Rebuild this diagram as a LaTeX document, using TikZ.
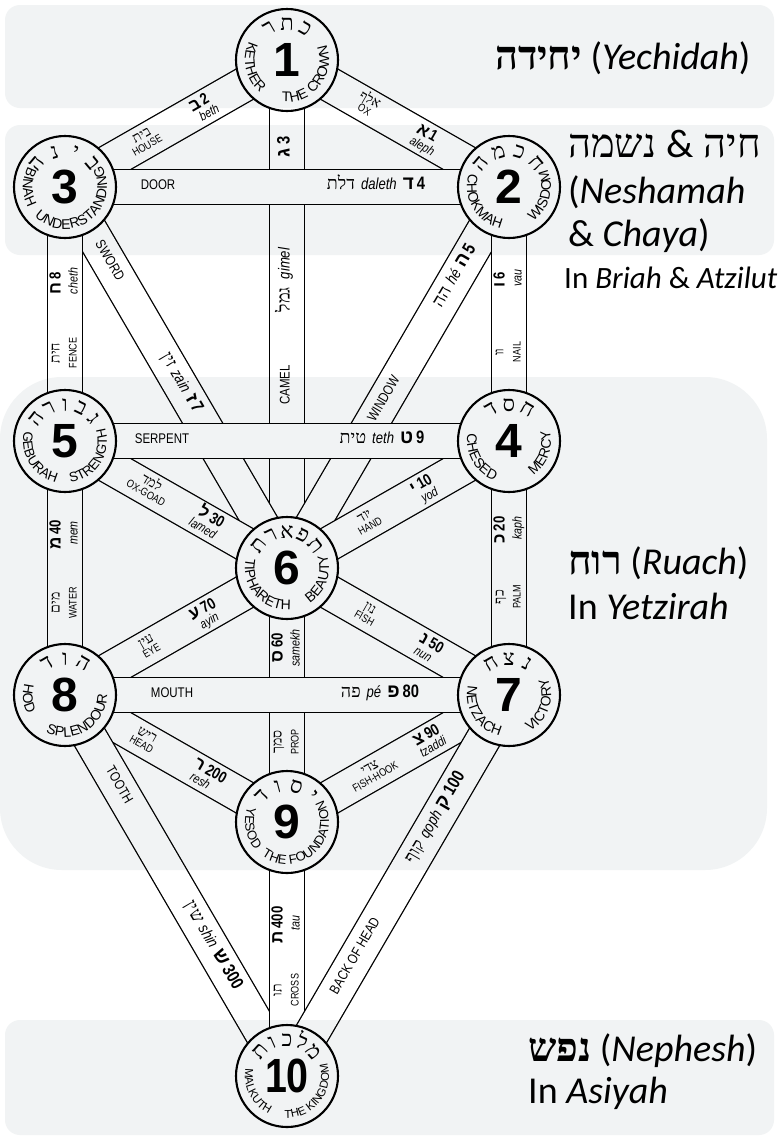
\documentclass[tikz,border=0pt]{standalone}
\usepackage{fontspec}
\usetikzlibrary{decorations.text,calc}
\setmainfont{Liberation Sans}
\newfontfamily\condf[FakeStretch=0.82]{Liberation Sans}
\newfontfamily\ringf{Liberation Sans}
\newfontfamily\hebf[Script=Hebrew]{Liberation Serif}
\newfontfamily\hebbf[Script=Hebrew]{Liberation Sans}
\newfontfamily\hebtf[Script=Hebrew]{Liberation Serif}
\newfontfamily\calif{Carlito}
\TeXXeTstate=1
\definecolor{tint}{RGB}{241,243,244}
\pgfdeclarelayer{bands}
\pgfdeclarelayer{tintlayer}
\pgfsetlayers{bands,main,tintlayer}

% label pieces on the long paths
\newcommand\HebN[1]{{\hebf\fontsize{18}{18}\selectfont\beginR #1\endR}}
\newcommand\TrL[1]{{\condf\itshape\fontsize{16}{16}\selectfont #1}}
\newcommand\LetB[1]{{\hebbf\bfseries\fontsize{19}{19}\selectfont #1}}
\newcommand\NumB[1]{{\condf\bfseries\fontsize{18}{18}\selectfont #1}}
\newcommand\EngL[1]{{\condf\fontsize{14}{14}\selectfont #1}}
% label pieces on the short paths
\newcommand\sHebN[1]{{\hebf\fontsize{14}{14}\selectfont\beginR #1\endR}}
\newcommand\sTrL[1]{{\condf\itshape\fontsize{13}{13}\selectfont #1}}
\newcommand\sLetB[1]{{\hebbf\bfseries\fontsize{17}{17}\selectfont #1}}
\newcommand\sNumB[1]{{\condf\bfseries\fontsize{16}{16}\selectfont #1}}
\newcommand\sEngL[1]{{\condf\fontsize{11}{11}\selectfont #1}}

% a path: black edges with a white body
\newcommand\band[2]{\draw[bandedge] (#1.center) -- (#2.center);\draw[bandfill] (#1.center) -- (#2.center);}
% local frame along a path: x runs from the first sephira, y is "up" for the text
\newcommand\along[3]{\begin{scope}[shift={(#1.center)},rotate=#2,transform shape]#3\end{scope}}
% English name on the lower inside of a ring
\newcommand\ringtext[4]{\path[decorate,decoration={text along path,text align=center,text={|\ringf\fontsize{#3}{#3}\selectfont|#4}}] ($(#1.center)+({#2-110}:42)$) arc[start angle={#2-110},end angle={#2+110},radius=42];}
% Hebrew name on the upper inside of a ring (letters listed left to right)
\newcommand\hebring[5]{\foreach \ch [count=\i] in {#5}{\pgfmathsetmacro\ang{#2-(\i-1)*(#2-#3)/(#4-1)}\node[ringheb,rotate=\ang-90] (#1h\i) at ($(#1.center)+(\ang:30)$) {\ch};}}

\begin{document}
\begin{tikzpicture}[x=1pt,y=1pt,
  sephira/.style={circle,draw,line width=2.1pt,fill=white,minimum size=102pt,inner sep=0pt},
  numb/.style={inner sep=0pt,font=\fontsize{48}{48}\selectfont\bfseries},
  bandedge/.style={line width=36pt,black},
  bandfill/.style={line width=33.4pt,white},
  lab/.style={inner sep=0pt,anchor=mid},
  ringheb/.style={inner sep=0pt,anchor=base,font=\hebf\fontsize{22}{22}\selectfont},
  sidetitle/.style={inner sep=0pt,anchor=base west,font=\calif\fontsize{38}{38}\selectfont},
  sidesub/.style={inner sep=0pt,anchor=base west,font=\calif\fontsize{31}{31}\selectfont}]
\useasboundingbox (0,-1141) rectangle (782,0);

% the ten sephiroth
\node[sephira] (s1) at (287,-60) {};
\node[sephira] (s2) at (509,-187) {};
\node[sephira] (s3) at (65,-187) {};
\node[sephira] (s4) at (509,-441) {};
\node[sephira] (s5) at (65,-441) {};
\node[sephira] (s6) at (287,-568) {};
\node[sephira] (s7) at (509,-695) {};
\node[sephira] (s8) at (65,-695) {};
\node[sephira] (s9) at (287,-822) {};
\node[sephira] (s10) at (287,-1076) {};

% the twenty-two paths (later ones lie on top)
\begin{pgfonlayer}{bands}
\fill[white] (0,-1141) rectangle (782,0);
\band{s1}{s6}\band{s2}{s6}\band{s3}{s6}\band{s6}{s9}
\band{s1}{s2}\band{s1}{s3}\band{s2}{s4}\band{s3}{s5}
\band{s4}{s6}\band{s5}{s6}\band{s4}{s7}\band{s5}{s8}
\band{s6}{s7}\band{s6}{s8}\band{s7}{s9}\band{s8}{s9}
\band{s8}{s10}\band{s9}{s10}\band{s7}{s10}
\band{s3}{s2}\band{s5}{s4}\band{s8}{s7}
\end{pgfonlayer}

% numbers
\node[numb] (n1) at (s1.center) {1};
\node[numb] (n2) at (s2.center) {2};
\node[numb] (n3) at (s3.center) {3};
\node[numb] (n4) at (s4.center) {4};
\node[numb] (n5) at (s5.center) {5};
\node[numb] (n6) at (s6.center) {6};
\node[numb] (n7) at (s7.center) {7};
\node[numb] (n8) at (s8.center) {8};
\node[numb] (n9) at (s9.center) {9};
\node[numb,font=\condf\fontsize{48}{48}\selectfont\bfseries] (n10) at (s10.center) {10};

% Hebrew names
\hebring{s1}{120}{60}{3}{ר,ת,כ}
\hebring{s2}{140}{40}{4}{ה,מ,כ,ח}
\hebring{s3}{140}{40}{4}{ה,נ,י,ב}
\hebring{s4}{120}{60}{3}{ד,ס,ח}
\hebring{s5}{142}{38}{5}{ה,ר,ו,ב,ג}
\hebring{s6}{142}{38}{5}{ת,ר,א,פ,ת}
\hebring{s7}{120}{60}{3}{ח,צ,נ}
\hebring{s8}{120}{60}{3}{ד,ו,ה}
\hebring{s9}{135}{45}{4}{ד,ו,ס,י}
\hebring{s10}{138}{42}{5}{ת,ו,כ,ל,מ}

% English names
\ringtext{s1}{192}{14}{KETHER}
\ringtext{s1}{322}{14}{THE CROWN}
\ringtext{s2}{210}{14}{CHOKMAH}
\ringtext{s2}{345}{14}{WISDOM}
\ringtext{s3}{180}{14}{BINAH}
\ringtext{s3}{307}{14}{UNDERSTANDING}
\ringtext{s4}{210}{14}{CHESED}
\ringtext{s4}{340}{14}{MERCY}
\ringtext{s5}{212}{13.5}{GEBURAH}
\ringtext{s5}{328}{13.5}{STRENGTH}
\ringtext{s6}{221}{14}{TIPHARETH}
\ringtext{s6}{341}{14}{BEAUTY}
\ringtext{s7}{212}{14}{NETZACH}
\ringtext{s7}{342}{14}{VICTORY}
\ringtext{s8}{185}{14}{HOD}
\ringtext{s8}{302}{14}{SPLENDOUR}
\ringtext{s9}{190}{13}{YESOD}
\ringtext{s9}{312}{13}{THE FOUNDATION}
\ringtext{s10}{207}{11.5}{MALKUTH}
\ringtext{s10}{322}{11.5}{THE KINGDOM}

% path labels
\along{s1}{-29.78}{
  \node[lab] (aH) at (92,5) {\sHebN{אלף}};
  \node[lab] (aE) at (92,-6) {\sEngL{OX}};
  \node[lab] (aL) at (158,4) {\sLetB{א}\hspace{2pt}\sNumB{1}};
  \node[lab] (aT) at (160,-9) {\sTrL{aleph}};}
\along{s3}{29.78}{
  \node[lab] (bH) at (92,5) {\sHebN{בית}};
  \node[lab] (bE) at (92,-6) {\sEngL{HOUSE}};
  \node[lab] (bL) at (158,4) {\sLetB{ב}\hspace{2pt}\sNumB{2}};
  \node[lab] (bT) at (162,-9) {\sTrL{beth}};}
\along{s6}{90}{
  \node[lab] (gE) at (183,0) {\EngL{CAMEL}};
  \node[lab] (gN) at (288,0) {\HebN{גמל}\hspace{8pt}\TrL{gimel}};
  \node[lab] (gL) at (421,0) {\LetB{ג}\hspace{4pt}\NumB{3}};}
\along{s3}{0}{
  \node[lab] (dE) at (93,0) {\EngL{DOOR}};
  \node[lab] (dN) at (311,0) {\HebN{דלת}\hspace{6pt}\TrL{daleth}\hspace{6pt}\LetB{ד}\hspace{3pt}\NumB{4}};}
\along{s6}{59.78}{
  \node[lab] (hE) at (195,0) {\EngL{WINDOW}};
  \node[lab] (hN) at (337,0) {\HebN{הה}\hspace{5pt}\TrL{hé}\hspace{5pt}\LetB{ה}\hspace{3pt}\NumB{5}};}
\along{s4}{90}{
  \node[lab] (vH) at (89,8) {\sHebN{וו}};
  \node[lab] (vE) at (89,-9) {\sEngL{NAIL}};
  \node[lab] (vL) at (161,7) {\sLetB{ו}\hspace{3pt}\sNumB{6}};
  \node[lab] (vT) at (163,-10) {\sTrL{vau}};}
\along{s3}{-59.78}{
  \node[lab] (zE) at (86,0) {\EngL{SWORD}};
  \node[lab] (zN) at (228,0) {\HebN{זין}\hspace{5pt}\TrL{zain}\hspace{5pt}\LetB{ז}\hspace{3pt}\NumB{7}};}
\along{s5}{90}{
  \node[lab] (cH) at (88,8) {\sHebN{חית}};
  \node[lab] (cE) at (88,-9) {\sEngL{FENCE}};
  \node[lab] (cL) at (158,7) {\sLetB{ח}\hspace{3pt}\sNumB{8}};
  \node[lab] (cT) at (160,-10) {\sTrL{cheth}};}
\along{s5}{0}{
  \node[lab] (tE) at (97,0) {\EngL{SERPENT}};
  \node[lab] (tN) at (317,0) {\HebN{טית}\hspace{6pt}\TrL{teth}\hspace{6pt}\LetB{ט}\hspace{3pt}\NumB{9}};}
\along{s6}{29.78}{
  \node[lab] (yH) at (93,5) {\sHebN{יוד}};
  \node[lab] (yE) at (93,-6) {\sEngL{HAND}};
  \node[lab] (yL) at (158,4) {\sLetB{י}\hspace{3pt}\sNumB{10}};
  \node[lab] (yT) at (160,-9) {\sTrL{yod}};}
\along{s7}{90}{
  \node[lab] (kH) at (98,8) {\sHebN{כף}};
  \node[lab] (kE) at (98,-9) {\sEngL{PALM}};
  \node[lab] (kL) at (165,7) {\sLetB{כ}\hspace{3pt}\sNumB{20}};
  \node[lab] (kT) at (167,-10) {\sTrL{kaph}};}
\along{s5}{-29.78}{
  \node[lab] (lH) at (96,5) {\sHebN{למד}};
  \node[lab] (lE) at (96,-6) {\sEngL{OX-GOAD}};
  \node[lab] (lL) at (165,4) {\sLetB{ל}\hspace{3pt}\sNumB{30}};
  \node[lab] (lT) at (163,-9) {\sTrL{lamed}};}
\along{s8}{90}{
  \node[lab] (mH) at (92,8) {\sHebN{מים}};
  \node[lab] (mE) at (92,-9) {\sEngL{WATER}};
  \node[lab] (mL) at (160,7) {\sLetB{מ}\hspace{3pt}\sNumB{40}};
  \node[lab] (mT) at (162,-10) {\sTrL{mem}};}
\along{s6}{-29.78}{
  \node[lab] (nH) at (92,5) {\sHebN{נון}};
  \node[lab] (nE) at (92,-6) {\sEngL{FISH}};
  \node[lab] (nL) at (163,4) {\sLetB{נ}\hspace{3pt}\sNumB{50}};
  \node[lab] (nT) at (161,-9) {\sTrL{nun}};}
\along{s9}{90}{
  \node[lab] (sxH) at (80,8) {\sHebN{סמך}};
  \node[lab] (sxE) at (80,-9) {\sEngL{PROP}};
  \node[lab] (sxL) at (174,7) {\sLetB{ס}\hspace{3pt}\sNumB{60}};
  \node[lab] (sxT) at (174,-10) {\sTrL{samekh}};}
\along{s8}{29.78}{
  \node[lab] (ayH) at (97,5) {\sHebN{עין}};
  \node[lab] (ayE) at (97,-6) {\sEngL{EYE}};
  \node[lab] (ayL) at (162,4) {\sLetB{ע}\hspace{3pt}\sNumB{70}};
  \node[lab] (ayT) at (162,-9) {\sTrL{ayin}};}
\along{s8}{0}{
  \node[lab] (pE) at (107,0) {\EngL{MOUTH}};
  \node[lab] (pN) at (315,0) {\HebN{פה}\hspace{6pt}\TrL{pé}\hspace{6pt}\LetB{פ}\hspace{3pt}\NumB{80}};}
\along{s8}{-29.78}{
  \node[lab] (rH) at (91,5) {\sHebN{ריש}};
  \node[lab] (rE) at (91,-6) {\sEngL{HEAD}};
  \node[lab] (rL) at (164,4) {\sLetB{ר}\hspace{3pt}\sNumB{200}};
  \node[lab] (rT) at (160,-9) {\sTrL{resh}};}
\along{s9}{29.78}{
  \node[lab] (tzH) at (99,5) {\sHebN{צדי}};
  \node[lab] (tzE) at (99,-6) {\sEngL{FISH-HOOK}};
  \node[lab] (tzL) at (164,4) {\sLetB{צ}\hspace{3pt}\sNumB{90}};
  \node[lab] (tzT) at (164,-9) {\sTrL{tzaddi}};}
\along{s8}{-59.78}{
  \node[lab] (shE) at (105,0) {\EngL{TOOTH}};
  \node[lab] (shN) at (291,0) {\HebN{שין}\hspace{5pt}\TrL{shin}\hspace{5pt}\LetB{ש}\hspace{3pt}\NumB{300}};}
\along{s10}{90}{
  \node[lab] (taH) at (86,8) {\sHebN{תו}};
  \node[lab] (taE) at (86,-9) {\sEngL{CROSS}};
  \node[lab] (taL) at (151,7) {\sLetB{ת}\hspace{3pt}\sNumB{400}};
  \node[lab] (taT) at (153,-10) {\sTrL{tau}};}
\along{s10}{59.78}{
  \node[lab] (qE) at (138,0) {\EngL{BACK OF HEAD}};
  \node[lab] (qN) at (298,0) {\HebN{קוף}\hspace{5pt}\TrL{qoph}\hspace{5pt}\LetB{ק}\hspace{3pt}\NumB{100}};}

% soul levels
\node[sidetitle] (yech) at (495,-69) {{\hebtf\bfseries\fontsize{40}{40}\selectfont\beginR יחידה\endR} (\textit{Yechidah})};
\node[sidetitle] (nesh1) at (568,-157) {{\hebtf\fontsize{40}{40}\selectfont\beginR חיה {\calif\&} נשמה\endR}};
\node[sidetitle] (nesh2) at (568,-203) {(\textit{Neshamah}};
\node[sidetitle] (nesh3) at (568,-246) {\& \textit{Chaya})};
\node[sidesub] (nesh4) at (564,-288) {In \textit{Briah} \& \textit{Atzilut}};
\node[sidetitle] (ruach1) at (568,-574) {{\hebtf\bfseries\fontsize{40}{40}\selectfont\beginR רוח\endR} (\textit{Ruach})};
\node[sidetitle] (ruach2) at (568,-619) {In \textit{Yetzirah}};
\node[sidetitle] (neph1) at (528,-1061) {{\hebtf\bfseries\fontsize{40}{40}\selectfont\beginR נפש\endR} (\textit{Nephesh})};
\node[sidetitle] (neph2) at (528,-1103) {In \textit{Asiyah}};

% tinted panels behind the worlds
\begin{pgfonlayer}{tintlayer}
\begin{scope}[blend mode=multiply]
\fill[tint,rounded corners=15pt] (5,-5) rectangle (774,-108);
\fill[tint,rounded corners=15pt] (5,-125) rectangle (774,-255);
\fill[tint,rounded corners=62pt] (0,-377) rectangle (767,-870);
\fill[tint,rounded corners=15pt] (5,-1020) rectangle (774,-1135);
\end{scope}
\end{pgfonlayer}
\end{tikzpicture}
\end{document}
